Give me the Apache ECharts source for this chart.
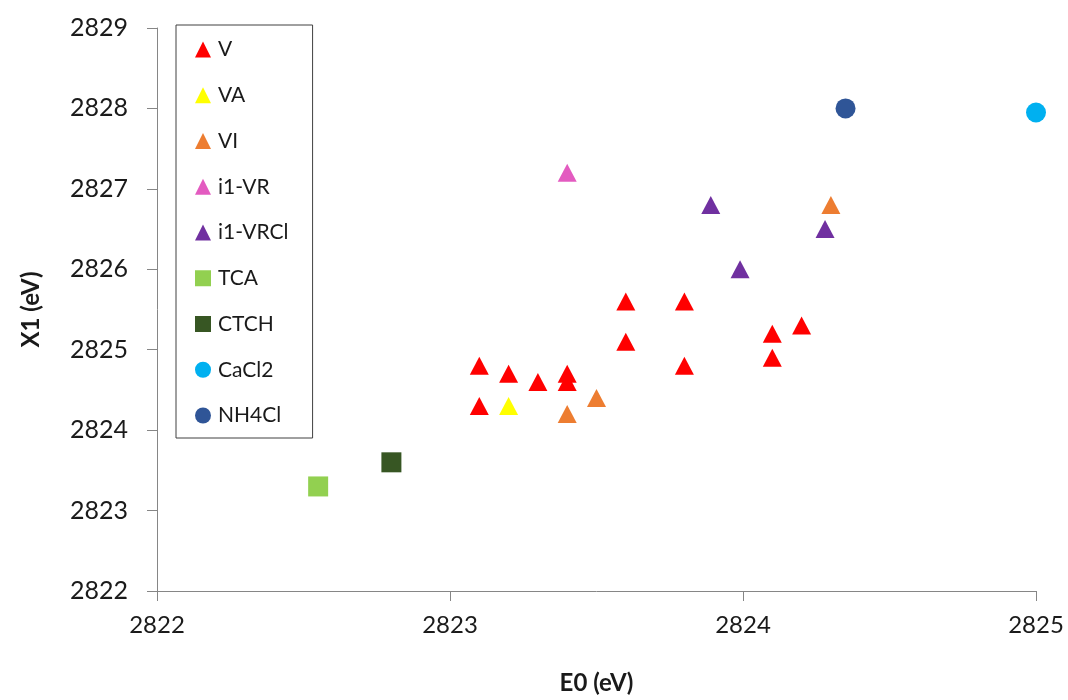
<!DOCTYPE html>
<html><head><meta charset="utf-8">
<script src="https://cdn.jsdelivr.net/npm/echarts@6/dist/echarts.min.js"></script>
<style>html,body{margin:0;padding:0;background:#fff}#c{width:1068px;height:700px}</style>
</head><body><div id="c"></div>
<script>
const seriesNames = ['V','VA','VI','i1-VR','i1-VRCl','TCA','CTCH','CaCl2','NH4Cl'];
const dataV = [[2823.1,2824.8],[2823.1,2824.3],[2823.2,2824.7],[2823.3,2824.6],[2823.4,2824.7],[2823.4,2824.6],[2823.6,2825.6],[2823.6,2825.1],[2823.8,2825.6],[2823.8,2824.8],[2824.1,2825.2],[2824.1,2824.9],[2824.2,2825.3]];
const dataVA = [[2823.2,2824.3]];
const dataVI = [[2823.4,2824.2],[2823.5,2824.4],[2824.3,2826.8]];
const dataI1VR = [[2823.4,2827.2]];
const dataI1VRCl = [[2823.89,2826.8],[2823.99,2826.0],[2824.28,2826.5]];
const dataTCA = [[2822.55,2823.3]];
const dataCTCH = [[2822.8,2823.6]];
const dataCaCl2 = [[2825.0,2827.95]];
const dataNH4Cl = [[2824.35,2828.0]];
const xTicks = {min:2822, max:2825, interval:1};
const yTicks = {min:2822, max:2829, interval:1};

const allData = [dataV,dataVA,dataVI,dataI1VR,dataI1VRCl,dataTCA,dataCTCH,dataCaCl2,dataNH4Cl];
const colors = ['#FF0000','#FFFF00','#ED7D31','#E35BC0','#7030A0','#92D050','#375623','#00B0F0','#2F5597'];
const symbols = ['triangle','triangle','triangle','triangle','triangle','rect','rect','circle','circle'];
const sizes = [[19,18],[19,18],[19,18],[19,18],[19,18],20,20,20,20];
const FONT = 'Lato';

const chart = echarts.init(document.getElementById('c'), null, {renderer:'canvas'});
chart.setOption({
  animation:false,
  backgroundColor:'#fff',
  textStyle:{fontFamily:FONT},
  grid:{left:157, right:32, top:28, bottom:101},
  legend:{
    orient:'vertical', left:176, top:25,
    padding:[14,24,12,19],
    borderColor:'#404040', borderWidth:1,
    itemWidth:16, itemHeight:16, itemGap:24.75,
    textStyle:{fontFamily:FONT, fontSize:21, color:'#1a1a1a', padding:[0,0,0,2]},
    data:seriesNames
  },
  xAxis:{
    type:'value', min:xTicks.min, max:xTicks.max, interval:xTicks.interval,
    name:'E0 (eV)', nameLocation:'middle', nameGap:80,
    nameTextStyle:{fontFamily:FONT, fontSize:24, fontWeight:'bold', color:'#1a1a1a'},
    axisLine:{show:true, lineStyle:{color:'#868686', width:1}},
    axisTick:{show:true, length:10, lineStyle:{color:'#868686'}},
    axisLabel:{fontFamily:FONT, fontSize:24, color:'#1a1a1a', margin:22, formatter:v=>String(v)},
    splitLine:{show:false}
  },
  yAxis:{
    type:'value', min:yTicks.min, max:yTicks.max, interval:yTicks.interval,
    name:'X1 (eV)', nameLocation:'middle', nameGap:114, nameRotate:90,
    nameTextStyle:{fontFamily:FONT, fontSize:24, fontWeight:'bold', color:'#1a1a1a'},
    axisLine:{show:true, lineStyle:{color:'#868686', width:1}},
    axisTick:{show:true, length:10, lineStyle:{color:'#868686'}},
    axisLabel:{fontFamily:FONT, fontSize:25, color:'#1a1a1a', margin:29, formatter:v=>String(v)},
    splitLine:{show:false}
  },
  series: seriesNames.map((n,i)=>({
    name:n, type:'scatter', data:allData[i],
    symbol:symbols[i], symbolSize:sizes[i],
    itemStyle:{color:colors[i], opacity:1}
  }))
});
</script></body></html>
